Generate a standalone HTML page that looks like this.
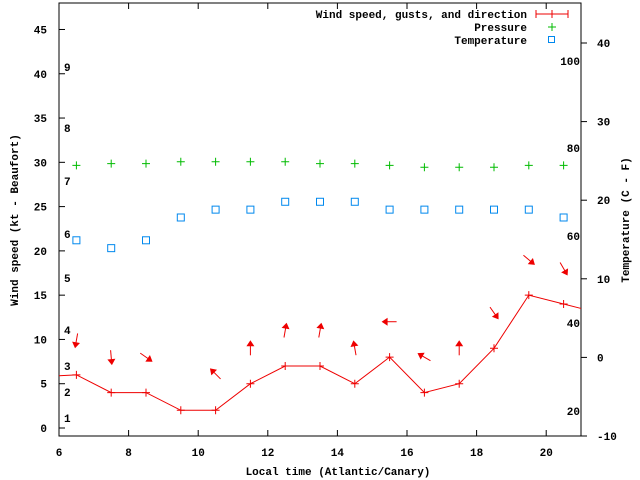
<!DOCTYPE html>
<html><head><meta charset="utf-8"><style>
body{margin:0;background:#fff}
svg{display:block;font-family:"Liberation Mono",monospace;font-size:11px;font-weight:bold}
</style></head><body>
<svg id="chart" width="640" height="480" xmlns="http://www.w3.org/2000/svg">
<g id="axes"></g>
<g id="marks"></g>
<text x="338" y="475" text-anchor="middle">Local time (Atlantic/Canary)</text>
<text transform="translate(18,220) rotate(-90)" text-anchor="middle">Wind speed (kt - Beaufort)</text>
<text transform="translate(629,220) rotate(-90)" text-anchor="middle">Temperature (C - F)</text>
<g>
<text x="527" y="18" text-anchor="end">Wind speed, gusts, and direction</text>
<text x="527" y="31" text-anchor="end">Pressure</text>
<text x="527" y="44" text-anchor="end">Temperature</text>
</g>
</svg>
<script>
const hours=[6.5,7.5,8.5,9.5,10.5,11.5,12.5,13.5,14.5,15.5,16.5,17.5,18.5,19.5,20.5];
const wind=[6,4,4,2,2,5,7,7,5,8,4,5,9,15,14];
const windEdge=[5.9,13.5];
const pressure=[29.66,29.85,29.85,30.07,30.07,30.07,30.07,29.85,29.85,29.66,29.44,29.44,29.44,29.66,29.66];
const temperature=[14.9,13.9,14.9,17.8,18.8,18.8,19.8,19.8,19.8,18.8,18.8,18.8,18.8,18.8,17.8];
const arrowHours=[6.5,7.5,8.5,10.5,11.5,12.5,13.5,14.5,15.5,16.5,17.5,18.5,19.5,20.5];
const arrowLevel=[9.9,8,8,6.1,9,11,11,9,12,8,9,13,19,18];
const arrowDir=[190,175,125,315,0,10,10,350,270,300,0,145,130,150];
const xTicks=[6,8,10,12,14,16,18,20];
const yTicks=[0,5,10,15,20,25,30,35,40,45];
const y2Ticks=[-10,0,10,20,30,40];
const beaufort=[[1,418],[2,392],[3,366],[4,330],[5,278],[6,234],[7,181],[8,128],[9,67]];
const fahr=[[100,61],[80,148],[60,236],[40,323],[20,411]];
const L=59,R=581,T=3,B=436;
const X=h=>L+(h-6)*34.8;
const Y=v=>428-v*8.856;
const Y2=v=>357.4-v*7.86;
const NS='http://www.w3.org/2000/svg';
function mk(p,t,a){const e=document.createElementNS(NS,t);for(const k in a)e.setAttribute(k,a[k]);p.appendChild(e);return e;}
const ax=document.getElementById('axes'),mg=document.getElementById('marks');
let e=mk(ax,'rect',{x:L,y:T,width:R-L,height:B-T,fill:'none',stroke:'#000'});


xTicks.forEach(h=>{
 mk(ax,'line',{x1:X(h),x2:X(h),y1:B,y2:B-6,stroke:'#000'});
 mk(ax,'line',{x1:X(h),x2:X(h),y1:T,y2:T+6,stroke:'#000'});
 const t=mk(ax,'text',{x:X(h),y:B+20,'text-anchor':'middle'});t.textContent=h;
 
 
});
yTicks.forEach(v=>{
 mk(ax,'line',{x1:L,x2:L+6,y1:Y(v),y2:Y(v),stroke:'#000'});
 const t=mk(ax,'text',{x:L-12,y:Y(v)+4,'text-anchor':'end'});t.textContent=v;
 
 
});
y2Ticks.forEach(v=>{
 mk(ax,'line',{x1:R,x2:R+6,y1:Y2(v),y2:Y2(v),stroke:'#000'});
 const t=mk(ax,'text',{x:R+16,y:Y2(v)+4});t.textContent=v;
 
 
});
beaufort.forEach(b=>{const t=mk(ax,'text',{x:64,y:b[1]+4});t.textContent=b[0];
 
 });
fahr.forEach(b=>{const t=mk(ax,'text',{x:580,y:b[1]+4,'text-anchor':'end'});t.textContent=b[0];
 
 });
// legend samples
mk(ax,'line',{x1:536,x2:568,y1:14,y2:14,stroke:'#e00'});
mk(ax,'line',{x1:536,x2:536,y1:10,y2:18,stroke:'#e00'});
mk(ax,'line',{x1:568,x2:568,y1:10,y2:18,stroke:'#e00'});
mk(ax,'line',{x1:552,x2:552,y1:10,y2:18,stroke:'#e00'});
mk(ax,'path',{d:'M548 27h8M552 23v8',stroke:'#0b0',fill:'none'});
mk(ax,'rect',{x:548.5,y:36.5,width:6,height:6,fill:'none',stroke:'#08e'});
// wind line
const pts=[[X(6),Y(windEdge[0])]].concat(hours.map((h,i)=>[X(h),Y(wind[i])])).concat([[X(21),Y(windEdge[1])]]);
e=mk(mg,'polyline',{points:pts.map(p=>p.join(',')).join(' '),fill:'none',stroke:'#e00'});


hours.forEach((h,i)=>{
 const x=X(h),y=Y(wind[i]);
 e=mk(mg,'path',{d:`M${x-4} ${y}h8M${x} ${y-4}v8`,stroke:'#e00'});
 
 
 const px=X(h),py=Y(pressure[i]);
 e=mk(mg,'path',{d:`M${px-4} ${py}h8M${px} ${py-4}v8`,stroke:'#0b0'});
 
 
 e=mk(mg,'rect',{x:X(h)-3.5,y:Y2(temperature[i])-3.5,width:7,height:7,fill:'none',stroke:'#08e'});
 
 
});
arrowHours.forEach((h,i)=>{
 const cx=X(h),cy=Y(arrowLevel[i]);
 const g=mk(mg,'g',{transform:`translate(${cx},${cy}) rotate(${arrowDir[i]})`});
 
 
 mk(g,'line',{x1:0,y1:7,x2:0,y2:-5,stroke:'#e00'});
 mk(g,'path',{d:'M0 -8L-4 -2L4 -2Z',fill:'#e00'});
});
</script>
</body></html>
